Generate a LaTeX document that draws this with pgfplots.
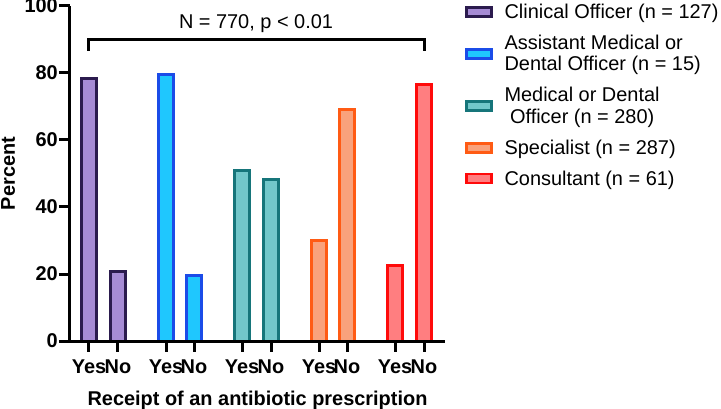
\documentclass[border=0pt]{standalone}
\usepackage{pgfplots}
\pgfplotsset{compat=1.18}
\usepackage{fontspec}
\setmainfont{Liberation Sans}
\newcommand\fs{\fontsize{20}{21.5}\selectfont}
\definecolor{aF}{HTML}{A68BD5}\definecolor{aD}{HTML}{2B1B4E}
\definecolor{bF}{HTML}{1FC7FE}\definecolor{bD}{HTML}{1B4CE8}
\definecolor{cF}{HTML}{72C7CA}\definecolor{cD}{HTML}{16757A}
\definecolor{dF}{HTML}{F9A27C}\definecolor{dD}{HTML}{FF5B14}
\definecolor{eF}{HTML}{FF7E80}\definecolor{eD}{HTML}{FF0A0A}
\begin{document}
\begin{tikzpicture}
\useasboundingbox (-70bp,-68bp) rectangle (651bp,341bp);
\begin{axis}[
  at={(0,0)}, anchor=south west,
  scale only axis, width=375bp, height=335bp,
  xmin=70, xmax=445, ymin=0, ymax=100,
  axis on top,
  axis lines=left, axis line style={-, line width=3bp, black},
  xtick={89,118,166,194,242,271,319,347,395,424},
  xticklabels={Yes,No,Yes,No,Yes,No,Yes,No,Yes,No},
  ytick={0,20,40,60,80,100},
  tick style={black, line width=3bp},
  major tick length=11bp,
  tick align=outside,
  ticklabel style={font=\bfseries\fs},
  /pgf/number format/assume math mode=true,
  yticklabel style={inner xsep=1bp},
  xticklabel style={yshift=-4bp},
  xlabel={Receipt of an antibiotic prescription},
  ylabel={Percent},
  label style={font=\bfseries\fs},
  xlabel style={at={(axis description cs:0.5,-0.178)}, anchor=center},
  ylabel style={at={(axis description cs:-0.165,0.5)}, anchor=center},
  legend style={draw=none, fill=none, at={(axis description cs:1.045,1.012)}, anchor=north west,
    font=\fs, row sep=15bp, column sep=10bp,
    cells={anchor=west, align=left, font=\fs}, nodes={inner ysep=0pt, font=\fs}},
  mybar/.style={ybar, bar width=15, bar shift=0pt, line width=3bp, yshift=-1.5bp,
    legend image code/.code={\draw[##1, yshift=1.5bp, line width=2.5bp] (0bp,-4.5bp) rectangle (25bp,4.5bp);}},
]
\addplot[mybar, fill=aF, draw=aD] coordinates {(89,78.7) (118,21.3)};
\addlegendentry{Clinical Officer (n = 127)\rule[-9bp]{0pt}{0pt}}
\addplot[mybar, fill=bF, draw=bD] coordinates {(166,80) (194,20)};
\addlegendentry{Assistant Medical or\\Dental Officer (n = 15)}
\addplot[mybar, fill=cF, draw=cD] coordinates {(242,51.4) (271,48.6)};
\addlegendentry{Medical or Dental\\\ Officer (n = 280)}
\addplot[mybar, fill=dF, draw=dD] coordinates {(319,30.3) (347,69.7)};
\addlegendentry{Specialist (n = 287)}
\addplot[mybar, fill=eF, draw=eD] coordinates {(395,23) (424,77)};
\addlegendentry{Consultant (n = 61)}
\draw[line width=3bp] (axis cs:89,86.7) -- (axis cs:89,90) -- (axis cs:424,90) -- (axis cs:424,86.7);
\node[font=\fs] at (axis cs:256,94.7) {N = 770, p < 0.01};
\end{axis}
\end{tikzpicture}
\end{document}
